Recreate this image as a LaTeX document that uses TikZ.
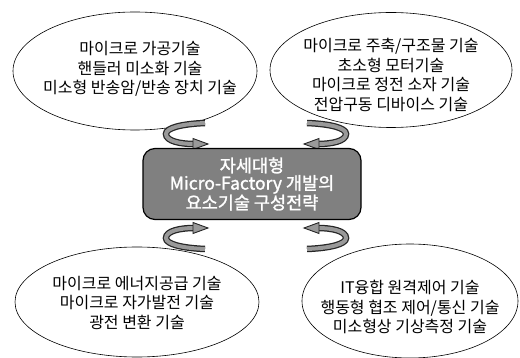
\documentclass[tikz,border=0pt]{standalone}
\usepackage{fontspec}
\setmainfont{Noto Sans CJK KR}
\newfontfamily\boxfont[FakeBold=1.5]{Noto Sans CJK KR}
\usetikzlibrary{shapes.geometric}
\newcommand\curlarrow{%
  \draw[curlout] (-51,-63) .. controls (-75,-62) and (-90,-58) .. (-90,-52) .. controls (-90,-45) and (-76,-42) .. (-62,-42);
  \draw[curlin] (-51,-63) .. controls (-75,-62) and (-90,-58) .. (-90,-52) .. controls (-90,-45) and (-76,-42) .. (-62,-42);
  \filldraw[curlhead] (-63,-47.5) -- (-48,-42) -- (-63,-36.5) -- cycle;
}
\begin{document}
\begin{tikzpicture}[x=1pt,y=-1pt,
  bubble/.style={ellipse, draw=black, line width=0.6pt, fill=white, inner sep=0pt},
  bubbletext/.style={align=center, inner sep=0pt, font=\fontsize{16}{19.5}\selectfont},
  hub/.style={rectangle, rounded corners=12pt, draw=black, line width=1.2pt, fill=black!50, text=white, align=center, font=\boxfont\fontsize{17.5}{17.5}\selectfont, minimum width=218pt, minimum height=71pt, inner sep=0pt},
  curlout/.style={line width=6.5pt, black!85},
  curlin/.style={line width=4pt, black!40},
  curlhead/.style={fill=black!40, draw=black!85, line width=0.9pt, line join=miter},
]
\useasboundingbox (0,0) rectangle (520,358);
\node[bubble, minimum width=244pt, minimum height=118pt] (tl) at (135,71) {};
\node[bubbletext] (tlt) at (140,69) {마이크로 가공기술\\핸들러 미소화 기술\\미소형 반송암/반송 장치 기술};
\node[bubble, minimum width=242pt, minimum height=115pt] (tr) at (391,70) {};
\node[bubbletext] (trt) at (391,75) {마이크로 주축/구조물 기술\\초소형 모터기술\\마이크로 정전 소자 기술\\전압구동 디바이스 기술};
\node[bubble, minimum width=244pt, minimum height=110pt] (bl) at (137,302) {};
\node[bubbletext] (blt) at (137,303) {마이크로 에너지공급 기술\\마이크로 자가발전 기술\\광전 변환 기술};
\node[bubble, minimum width=216pt, minimum height=114pt] (br) at (410,301) {};
\node[bubbletext] (brt) at (410,307) {IT융합 원격제어 기술\\행동형 협조 제어/통신 기술\\미소형상 기상측정 기술};
\begin{scope}[shift={(256,186)}] \curlarrow \end{scope}
\begin{scope}[shift={(256,186)}, xscale=-1] \curlarrow \end{scope}
\begin{scope}[shift={(256,186)}, yscale=-1] \curlarrow \end{scope}
\begin{scope}[shift={(256,186)}, xscale=-1, yscale=-1] \curlarrow \end{scope}
\node[hub] (hub) at (252,184) {자세대형\\Micro-Factory 개발의\\요소기술 구성전략};
\end{tikzpicture}
\end{document}
